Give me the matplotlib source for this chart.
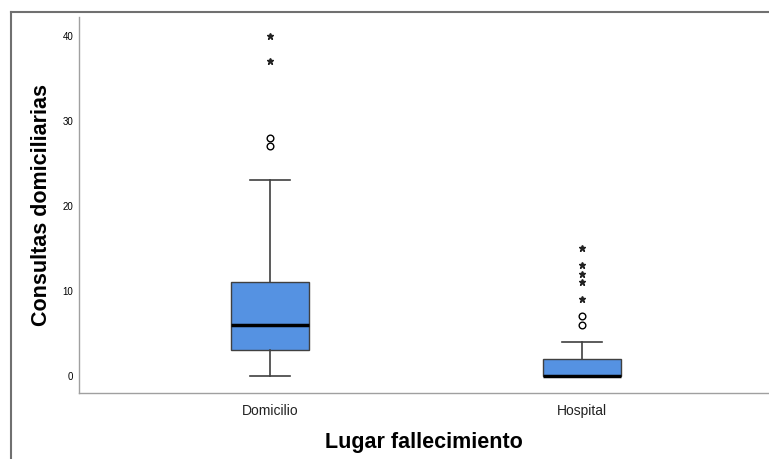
import matplotlib
matplotlib.use("Agg")
import matplotlib.pyplot as plt
from matplotlib.lines import Line2D

plt.rcParams['font.family'] = ['Liberation Sans', 'DejaVu Sans']

# box statistics
categories = ['Domicilio', 'Hospital']
q1 = [3, 0]
med = [6, 0]
q3 = [11, 2]
whislo = [0, 0]
whishi = [23, 4]
# outliers (circles) and extremes (stars)
outliers = [[27, 28], [6, 7]]
extremes = [[37, 40], [9, 11, 12, 13, 15]]
yticks = [0, 10, 20, 30, 40]

fig = plt.figure(figsize=(7.69, 4.59), dpi=100)
ax = fig.add_axes([79/769, 66/459, 690/769, 376/459])

stats = []
for i, c in enumerate(categories):
    stats.append(dict(label=c, q1=q1[i], med=med[i], q3=q3[i],
                      whislo=whislo[i], whishi=whishi[i], fliers=[]))

pos = list(range(len(categories)))
ax.bxp(stats, positions=pos, widths=0.25, capwidths=0.13,
       patch_artist=True, showfliers=False,
       boxprops=dict(facecolor='#5592e2', edgecolor='#404040', linewidth=1),
       medianprops=dict(color='black', linewidth=2.5),
       whiskerprops=dict(color='#404040', linewidth=1.2),
       capprops=dict(color='#404040', linewidth=1.2))

for i in pos:
    ax.plot([i] * len(outliers[i]), outliers[i], 'o', mfc='none', mec='black',
            ms=4.8, mew=1, clip_on=False)
    ax.plot([i] * len(extremes[i]), extremes[i], '*', color='#222222',
            ms=4.5, clip_on=False)

ax.set_xlim(-0.612, 1.599)
ax.set_ylim(-2.0, 42.2)
ax.set_yticks(yticks)
ax.set_xticks(pos)
ax.set_xticklabels(categories, fontsize=10, color='#222222')
ax.tick_params(axis='y', length=0, pad=4, labelsize=7)
ax.tick_params(axis='x', length=0, pad=8)

for s in ['top', 'right']:
    ax.spines[s].set_visible(False)
for s in ['left', 'bottom']:
    ax.spines[s].set_color('#a0a0a0')
    ax.spines[s].set_linewidth(1)

ax.set_ylabel('Consultas domiciliarias', fontsize=15.5, fontweight='bold', labelpad=8)
ax.set_xlabel('Lugar fallecimiento', fontsize=15.5, fontweight='bold', labelpad=10)

# outer frame
fig.add_artist(Line2D([11/769, 11/769], [0, 447/459], color='#707070', lw=1.5))
fig.add_artist(Line2D([11/769, 1], [447/459, 447/459], color='#707070', lw=1.5))

fig.savefig('out.png', dpi=100)
